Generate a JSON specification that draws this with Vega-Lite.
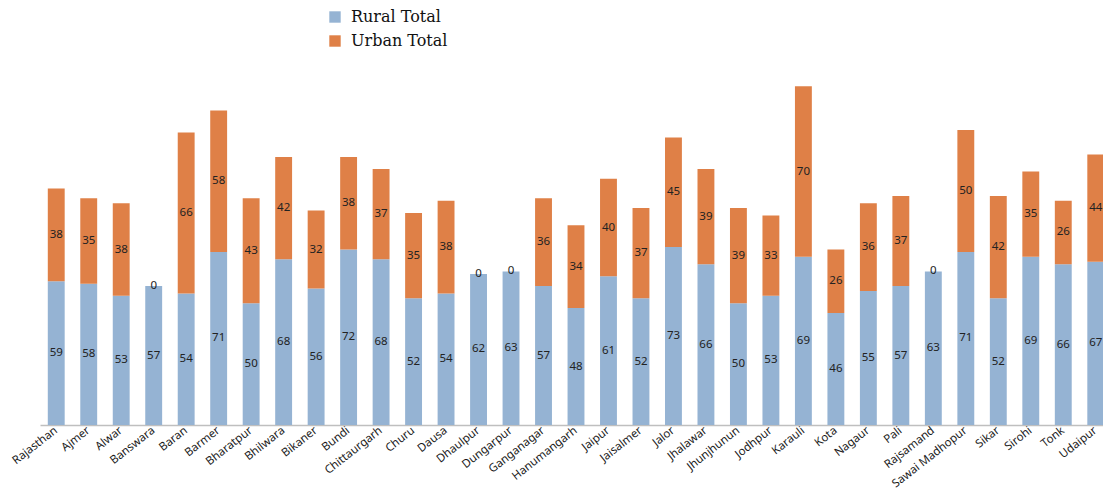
{
  "$schema": "https://vega.github.io/schema/vega-lite/v6.json",
  "width": 1072,
  "height": 390,
  "autosize": {"type": "none"},
  "padding": {"left": 40, "top": 35, "right": 0, "bottom": 69},
  "background": "white",
  "config": {"view": {"stroke": null}},
  "data": {
    "values": [
      {"district": "Rajasthan", "series": "Rural Total", "value": 59},
      {"district": "Rajasthan", "series": "Urban Total", "value": 38},
      {"district": "Ajmer", "series": "Rural Total", "value": 58},
      {"district": "Ajmer", "series": "Urban Total", "value": 35},
      {"district": "Alwar", "series": "Rural Total", "value": 53},
      {"district": "Alwar", "series": "Urban Total", "value": 38},
      {"district": "Banswara", "series": "Rural Total", "value": 57},
      {"district": "Banswara", "series": "Urban Total", "value": 0},
      {"district": "Baran", "series": "Rural Total", "value": 54},
      {"district": "Baran", "series": "Urban Total", "value": 66},
      {"district": "Barmer", "series": "Rural Total", "value": 71},
      {"district": "Barmer", "series": "Urban Total", "value": 58},
      {"district": "Bharatpur", "series": "Rural Total", "value": 50},
      {"district": "Bharatpur", "series": "Urban Total", "value": 43},
      {"district": "Bhilwara", "series": "Rural Total", "value": 68},
      {"district": "Bhilwara", "series": "Urban Total", "value": 42},
      {"district": "Bikaner", "series": "Rural Total", "value": 56},
      {"district": "Bikaner", "series": "Urban Total", "value": 32},
      {"district": "Bundi", "series": "Rural Total", "value": 72},
      {"district": "Bundi", "series": "Urban Total", "value": 38},
      {"district": "Chittaurgarh", "series": "Rural Total", "value": 68},
      {"district": "Chittaurgarh", "series": "Urban Total", "value": 37},
      {"district": "Churu", "series": "Rural Total", "value": 52},
      {"district": "Churu", "series": "Urban Total", "value": 35},
      {"district": "Dausa", "series": "Rural Total", "value": 54},
      {"district": "Dausa", "series": "Urban Total", "value": 38},
      {"district": "Dhaulpur", "series": "Rural Total", "value": 62},
      {"district": "Dhaulpur", "series": "Urban Total", "value": 0},
      {"district": "Dungarpur", "series": "Rural Total", "value": 63},
      {"district": "Dungarpur", "series": "Urban Total", "value": 0},
      {"district": "Ganganagar", "series": "Rural Total", "value": 57},
      {"district": "Ganganagar", "series": "Urban Total", "value": 36},
      {"district": "Hanumangarh", "series": "Rural Total", "value": 48},
      {"district": "Hanumangarh", "series": "Urban Total", "value": 34},
      {"district": "Jaipur", "series": "Rural Total", "value": 61},
      {"district": "Jaipur", "series": "Urban Total", "value": 40},
      {"district": "Jaisalmer", "series": "Rural Total", "value": 52},
      {"district": "Jaisalmer", "series": "Urban Total", "value": 37},
      {"district": "Jalor", "series": "Rural Total", "value": 73},
      {"district": "Jalor", "series": "Urban Total", "value": 45},
      {"district": "Jhalawar", "series": "Rural Total", "value": 66},
      {"district": "Jhalawar", "series": "Urban Total", "value": 39},
      {"district": "Jhunjhunun", "series": "Rural Total", "value": 50},
      {"district": "Jhunjhunun", "series": "Urban Total", "value": 39},
      {"district": "Jodhpur", "series": "Rural Total", "value": 53},
      {"district": "Jodhpur", "series": "Urban Total", "value": 33},
      {"district": "Karauli", "series": "Rural Total", "value": 69},
      {"district": "Karauli", "series": "Urban Total", "value": 70},
      {"district": "Kota", "series": "Rural Total", "value": 46},
      {"district": "Kota", "series": "Urban Total", "value": 26},
      {"district": "Nagaur", "series": "Rural Total", "value": 55},
      {"district": "Nagaur", "series": "Urban Total", "value": 36},
      {"district": "Pali", "series": "Rural Total", "value": 57},
      {"district": "Pali", "series": "Urban Total", "value": 37},
      {"district": "Rajsamand", "series": "Rural Total", "value": 63},
      {"district": "Rajsamand", "series": "Urban Total", "value": 0},
      {"district": "Sawai Madhopur", "series": "Rural Total", "value": 71},
      {"district": "Sawai Madhopur", "series": "Urban Total", "value": 50},
      {"district": "Sikar", "series": "Rural Total", "value": 52},
      {"district": "Sikar", "series": "Urban Total", "value": 42},
      {"district": "Sirohi", "series": "Rural Total", "value": 69},
      {"district": "Sirohi", "series": "Urban Total", "value": 35},
      {"district": "Tonk", "series": "Rural Total", "value": 66},
      {"district": "Tonk", "series": "Urban Total", "value": 26},
      {"district": "Udaipur", "series": "Rural Total", "value": 67},
      {"district": "Udaipur", "series": "Urban Total", "value": 44}
    ]
  },
  "transform": [
    {"stack": "value", "groupby": ["district"], "sort": [{"field": "series", "order": "ascending"}], "as": ["v0", "v1"]},
    {"calculate": "(datum.v0 + datum.v1) / 2", "as": "mid"}
  ],
  "encoding": {
    "x": {
      "field": "district",
      "type": "nominal",
      "sort": null,
      "title": null,
      "scale": {"paddingInner": 0.48, "paddingOuter": 0.24},
      "axis": {
        "labelAngle": -38,
        "labelAlign": "right",
        "labelBaseline": "middle",
        "labelFont": "Noto Sans",
        "labelFontSize": 11.5,
        "labelColor": "#1a1a1a",
        "labelPadding": 4,
        "ticks": false,
        "domainColor": "#bfbfbf",
        "domainWidth": 1.5,
        "labelOverlap": false
      }
    }
  },
  "layer": [
    {
      "mark": {"type": "bar"},
      "encoding": {
        "y": {"field": "v0", "type": "quantitative", "scale": {"domain": [0, 160]}, "axis": null},
        "y2": {"field": "v1"},
        "color": {
          "field": "series",
          "type": "nominal",
          "scale": {"domain": ["Rural Total", "Urban Total"], "range": ["#95b3d3", "#df8047"]},
          "legend": {
            "title": null,
            "orient": "none",
            "legendX": 287,
            "legendY": -26,
            "symbolType": "square",
            "symbolSize": 130,
            "symbolStrokeWidth": 0,
            "labelFont": "DejaVu Serif",
            "labelFontSize": 16,
            "labelColor": "#111111",
            "labelOffset": 8,
            "rowPadding": 8
          }
        }
      }
    },
    {
      "mark": {"type": "text", "font": "Noto Sans", "fontSize": 11.5, "color": "#222222", "baseline": "middle"},
      "encoding": {
        "y": {"field": "mid", "type": "quantitative"},
        "text": {"field": "value", "type": "quantitative"}
      }
    }
  ]
}
